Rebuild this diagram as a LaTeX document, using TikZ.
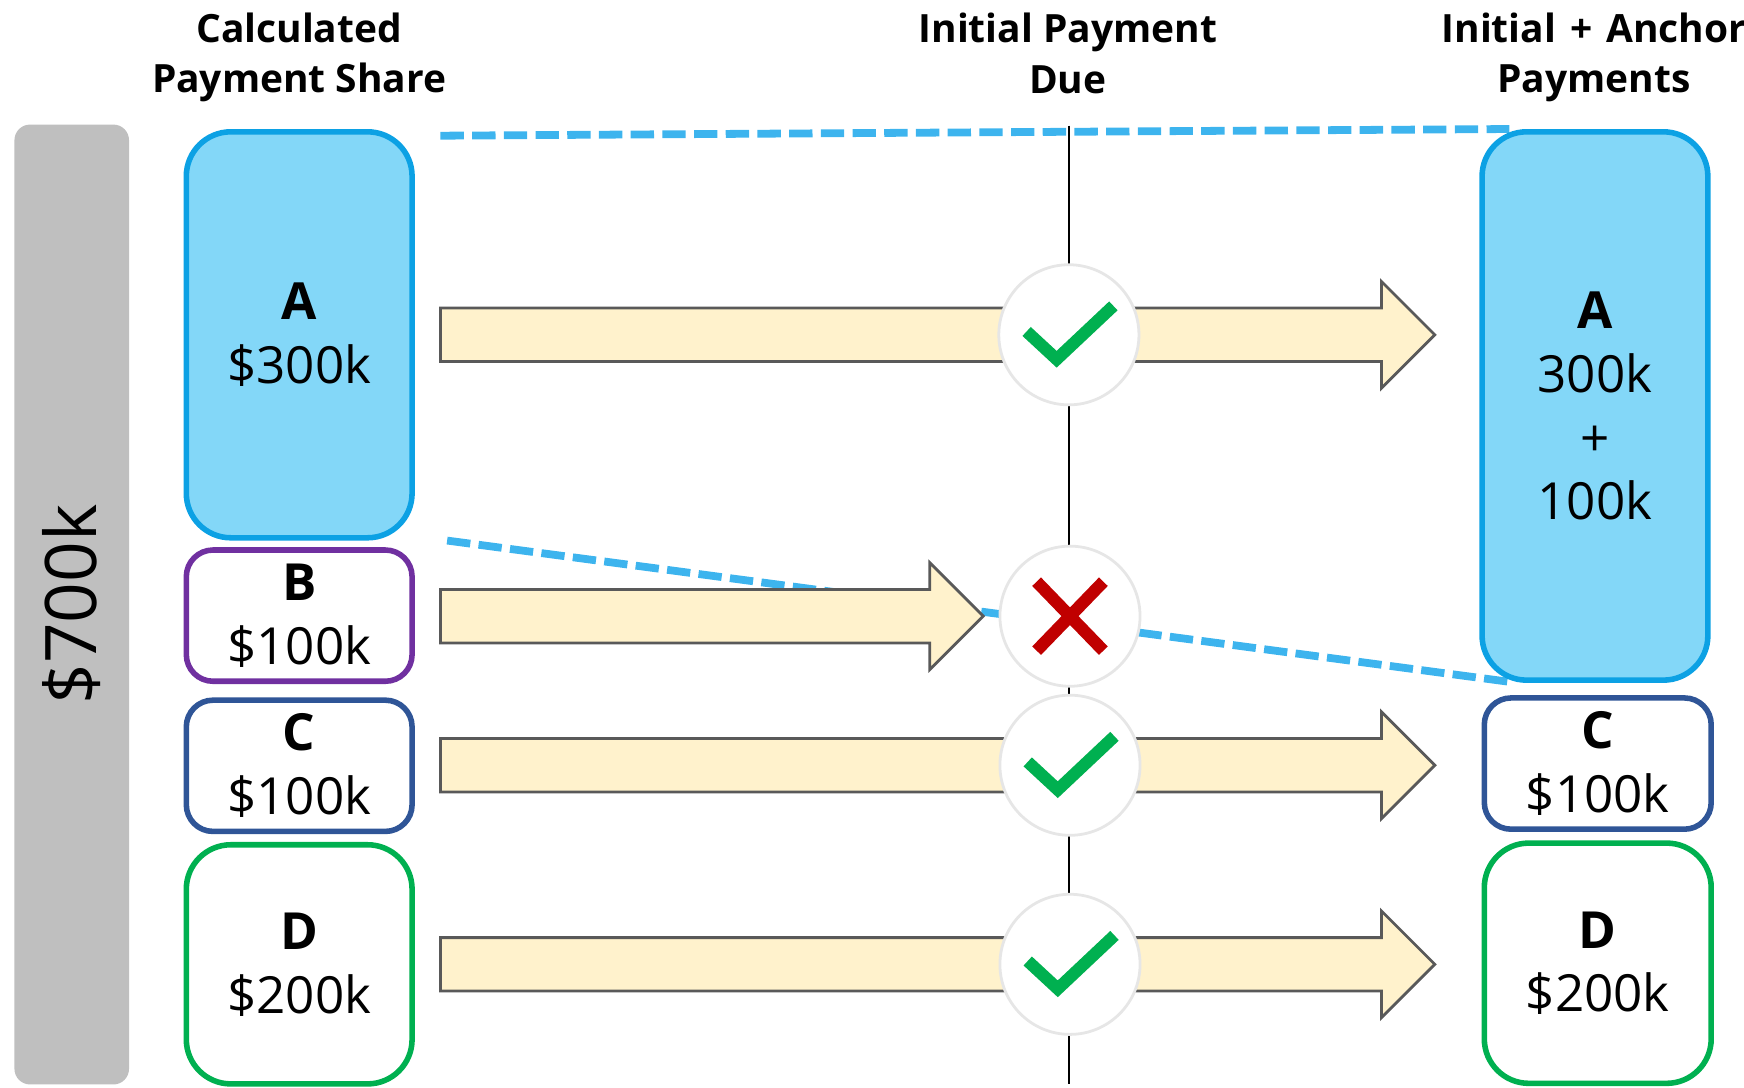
\documentclass[tikz,border=0pt]{standalone}
\usepackage{fontspec}
\setmainfont{Open Sans}
\usetikzlibrary{calc}

\definecolor{skyfill}{HTML}{83D7F8}
\definecolor{skyline}{HTML}{0CA1E4}
\definecolor{cutline}{HTML}{3DB4EE}
\definecolor{purpleline}{HTML}{7030A0}
\definecolor{navyline}{HTML}{2F5597}
\definecolor{greenline}{HTML}{00B050}
\definecolor{barfill}{HTML}{BFBFBF}
\definecolor{arrowfill}{HTML}{FFF2CC}
\definecolor{arrowline}{HTML}{595959}
\definecolor{gateline}{HTML}{E6E6E6}
\definecolor{nored}{HTML}{C00000}

\begin{document}
\begin{tikzpicture}[x=1pt,y=-1pt] \tikzset{% This is the style settings for nodes
        share/.style={draw, line width=5pt, rounded corners=24pt, minimum width=203pt, inner sep=0pt,
          align=center, font=\fontsize{46}{57.5}\selectfont, execute at begin node={\rule{0pt}{48pt}}},
        tall/.style={rounded corners=40pt},
        head/.style={align=center, font=\bfseries\fontsize{35}{45}\selectfont},
        bar/.style={fill=barfill, rounded corners=14pt, rotate=90, minimum width=863pt, minimum height=103pt,
          inner sep=0pt, font=\fontsize{64}{64}\selectfont},
        payarrow/.style={draw=arrowline, fill=arrowfill, line width=2.5pt},
        gate/.style={circle, draw=gateline, fill=white, line width=2.5pt, minimum size=126pt, inner sep=0pt},
        c1/.style={line width=1.2pt},
        c2/.style={dash pattern=on 21pt off 7.5pt, cutline, line width=7pt},
        tick/.style={greenline, line width=11pt},
        cross/.style={nored, line width=11pt},
        }
        \useasboundingbox (0,0) rectangle (1568,978);
        % Total
        \node[bar] (total) at (64.5,543.5) {\$700k};
        % Cut lines
        \coordinate (cutA1) at (396,122); \coordinate (cutA2) at (1357,116);
        \coordinate (cutB1) at (402,486); \coordinate (cutB2) at (1357,613);
        \draw[c2] (cutA1) -- (cutA2); \draw[c2] (cutB1) -- (cutB2);
        % Shares
        \node[share, tall, draw=skyline, fill=skyfill, minimum height=365pt] (sA) at (269,301) {\textbf{A}\\\$300k};
        \node[share, draw=purpleline, fill=white, minimum height=118pt] (sB) at (269,553.5) {\textbf{B}\\\$100k};
        \node[share, draw=navyline, fill=white, minimum height=118pt] (sC) at (269,688.5) {\textbf{C}\\\$100k};
        \node[share, tall, draw=greenline, fill=white, minimum height=215pt] (sD) at (269,867) {\textbf{D}\\\$200k};
        \node[share, tall, draw=skyline, fill=skyfill, minimum height=493pt] (pA) at (1434,365) {\textbf{A}\\300k\\+\\100k};
        \node[share, draw=navyline, fill=white, minimum width=204pt, minimum height=118pt] (pC) at (1436.5,686.5) {\textbf{C}\\\$100k};
        \node[share, tall, draw=greenline, fill=white, minimum width=204pt, minimum height=216pt] (pD) at (1436.5,866) {\textbf{D}\\\$200k};
        % Due line
        \coordinate (dueTop) at (961,113); \coordinate (dueBot) at (961,975);
        \draw[c1] (dueTop) -- (dueBot);
        % Arrows
        \foreach \r/\y/\tip in {A/301/1290, B/554/884, C/688/1290, D/867/1290} {
          \coordinate (tail\r) at (396,\y); \coordinate (tip\r) at (\tip,\y);
          \draw[payarrow] ($(tail\r)+(0,-24)$) -- ($(tip\r)+(-48,-24)$) -- ($(tip\r)+(-48,-48)$) -- (tip\r)
            -- ($(tip\r)+(-48,48)$) -- ($(tip\r)+(-48,24)$) -- ($(tail\r)+(0,24)$) -- cycle;
        }
        % Gates
        \node[gate] (gA) at (961,301) {}; \node[gate] (gB) at (962,554) {};
        \node[gate] (gC) at (962,688) {}; \node[gate] (gD) at (962,867) {};
        \foreach \g in {gA,gC,gD} {
          \draw[tick] ($(\g)+(-38,-3)$) -- ($(\g)+(-11,22)$) -- ($(\g)+(40,-26)$);
        }
        \draw[cross] ($(gB)+(-30,-31)$) -- ($(gB)+(30,31)$); \draw[cross] ($(gB)+(30,-31)$) -- ($(gB)+(-30,31)$);
        % Headers
        \node[head] (hShare) at (269,52) {Calculated\\Payment Share};
        \node[head] (hDue) at (960,48) {Initial Payment\\Due};
        \node[head] (hPaid) at (1433,52) {Initial\hspace{0.1em} +\hspace{0.1em} Anchor\\Payments};
\end{tikzpicture}
\end{document}
